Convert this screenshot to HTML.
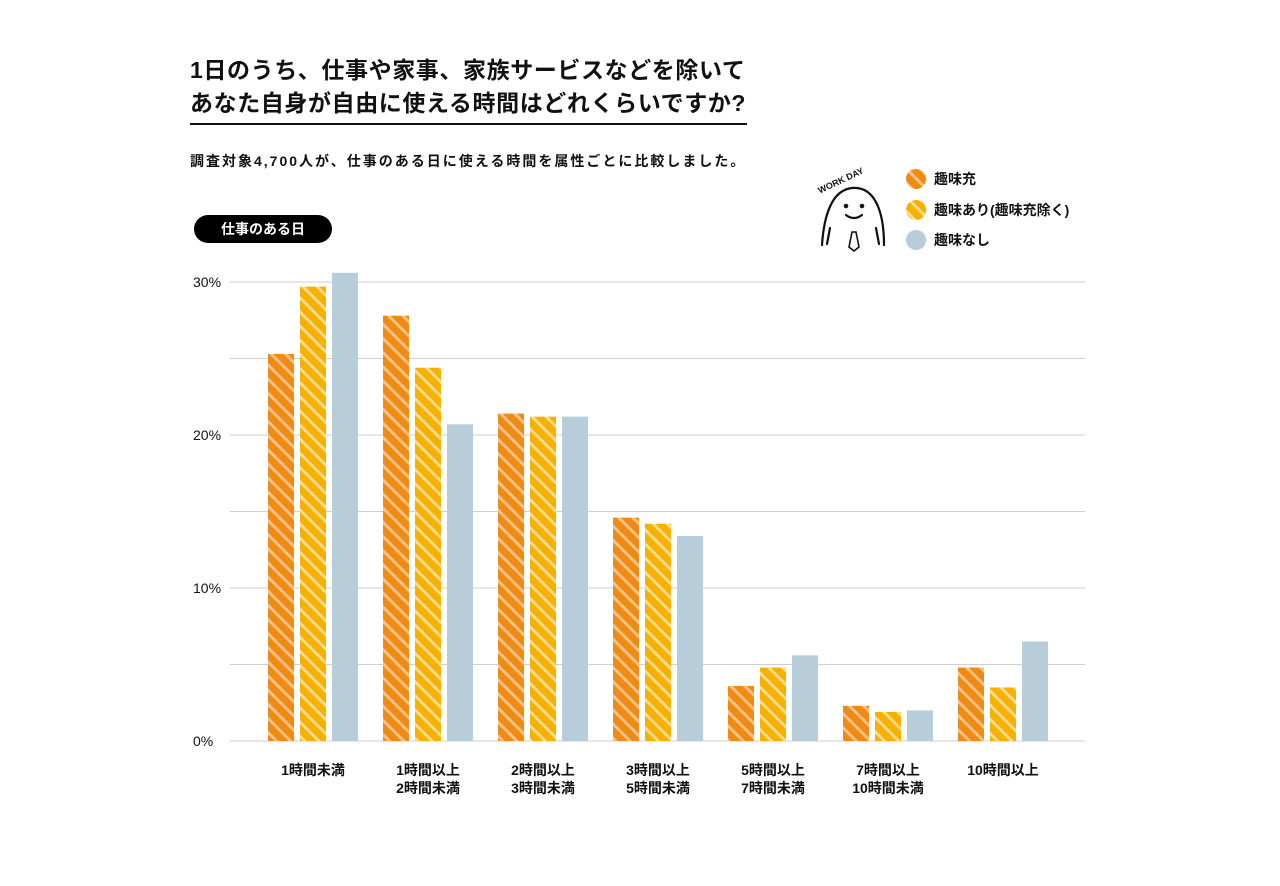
<!DOCTYPE html>
<html><head><meta charset="utf-8"><style>
body{margin:0;background:#fff;font-family:"Liberation Sans","Noto Sans CJK JP",sans-serif;}
#wrap{position:relative;width:1280px;height:886px;overflow:hidden;}
.t{position:absolute;color:#111;white-space:nowrap;}
</style></head><body>
<div id="wrap">
<div class="t" style="left:190px;top:54px;font-size:23px;font-weight:bold;line-height:33px;letter-spacing:0.6px;">1日のうち、仕事や家事、家族サービスなどを除いて<br>あなた自身が自由に使える時間はどれくらいですか?</div>
<div style="position:absolute;left:190px;top:123px;width:557px;height:2px;background:#111;"></div>
<div class="t" style="left:190px;top:151px;font-size:14px;font-weight:bold;letter-spacing:2px;">調査対象4,700人が、仕事のある日に使える時間を属性ごとに比較しました。</div>
<div style="position:absolute;left:194px;top:215px;width:138px;height:28px;border-radius:14px;background:#000;color:#fff;font-size:14px;font-weight:bold;text-align:center;line-height:28px;">仕事のある日</div>
<svg id="chart" width="1280" height="886" style="position:absolute;left:0;top:0">
<defs>
<pattern id="pO" patternUnits="userSpaceOnUse" width="10" height="10" patternTransform="rotate(-45)"><rect width="10" height="10" fill="#f18a12"/><rect x="0" width="3" height="10" fill="#f8c185"/></pattern>
<pattern id="pY" patternUnits="userSpaceOnUse" width="10" height="10" patternTransform="rotate(-45)"><rect width="10" height="10" fill="#f8b000"/><rect x="0" width="3" height="10" fill="#fbdc8a"/></pattern>
</defs>
<g id="grid"></g><g id="bars"></g><g id="labels"></g>
<g fill="none" stroke="#111" stroke-width="2.2" stroke-linecap="round">
<path d="M822 245 C824 215 832 190 852 188 C874 186 884 210 884 245"/>
<path d="M830 228 l-3 16 M876 228 l3 16"/>
<circle cx="846" cy="206" r="1.2" fill="#111"/><circle cx="862" cy="206" r="1.2" fill="#111"/>
<path d="M846 215 Q854 221 862 215"/>
<path d="M852 232 l-3 15 l5 4 l5 -4 l-3 -15 z" stroke-width="1.6"/>
</g>
<text x="815" y="188" font-size="9" font-weight="bold" fill="#111" transform="rotate(-25 830 180)">WORK DAY</text>
<g font-size="14" font-weight="bold" fill="#111">
<circle cx="916" cy="179" r="10" fill="url(#pO)"/><text x="934" y="184">趣味充</text>
<circle cx="916" cy="210" r="10" fill="url(#pY)"/><text x="934" y="215">趣味あり(趣味充除く)</text>
<circle cx="916" cy="240" r="10" fill="#b7cdd9"/><text x="934" y="245">趣味なし</text>
</g>
</svg>
</div>
<script>
const categories=[["1時間未満"],["1時間以上","2時間未満"],["2時間以上","3時間未満"],["3時間以上","5時間未満"],["5時間以上","7時間未満"],["7時間以上","10時間未満"],["10時間以上"]];
const hobbyFull=[25.3,27.8,21.4,14.6,3.6,2.3,4.8];
const hobbyYes=[29.7,24.4,21.2,14.2,4.8,1.9,3.5];
const hobbyNo=[30.6,20.7,21.2,13.4,5.6,2.0,6.5];
const yTicks=[0,5,10,15,20,25,30];
const yTickLabels=["0%","","10%","","20%","","30%"];
const NS="http://www.w3.org/2000/svg";
function y(v){return 741-v*15.3;}
function gx(i){return 313+i*115;}
function mk(t,a){const e=document.createElementNS(NS,t);for(const k in a)e.setAttribute(k,a[k]);return e;}
const grid=document.getElementById('grid'),bars=document.getElementById('bars'),labels=document.getElementById('labels');
yTicks.forEach((v,i)=>{
 const l=mk('line',{x1:230,x2:1085,y1:y(v),y2:y(v),stroke:'#cfcfcf','stroke-width':1});
 
 
 grid.appendChild(l);
 if(yTickLabels[i]){const t=mk('text',{x:193,y:y(v)+5,'font-size':14,fill:'#111'});t.textContent=yTickLabels[i];
 
 
 labels.appendChild(t);}
});
const series=[[hobbyFull,'url(#pO)',-45,'hobby-full'],[hobbyYes,'url(#pY)',-13,'hobby'],[hobbyNo,'#b7cdd9',19,'no-hobby']];
categories.forEach((c,i)=>{
 series.forEach(s=>{
  const v=s[0][i];
  const r=mk('rect',{x:gx(i)+s[2],y:y(v),width:26,height:741-y(v),fill:s[1]});
  
  
  bars.appendChild(r);
 });
 c.forEach((line,j)=>{
  const t=mk('text',{x:gx(i),y:775+j*18,'font-size':14,'font-weight':'bold','text-anchor':'middle',fill:'#111'});
  t.textContent=line;
  
  
  labels.appendChild(t);
 });
});
</script>
</body></html>
